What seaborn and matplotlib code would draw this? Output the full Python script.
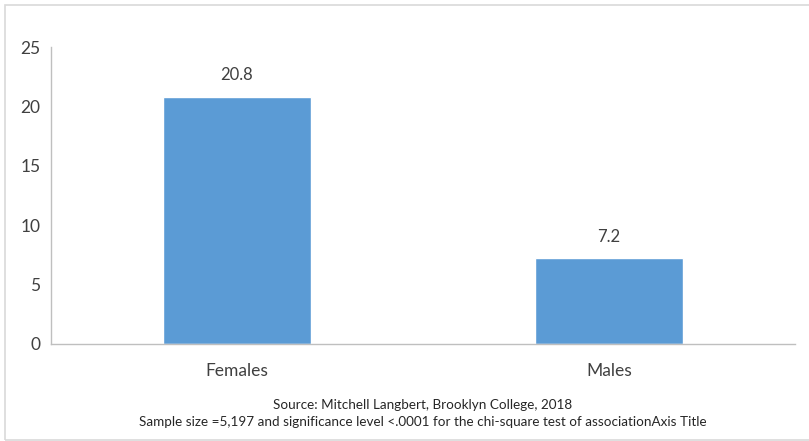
import matplotlib
matplotlib.use("Agg")
import matplotlib.pyplot as plt
import seaborn as sns
from matplotlib.patches import Rectangle

# data
groups = ["Females", "Males"]
percent = [20.8, 7.2]
source_lines = [
    "Source: Mitchell Langbert, Brooklyn College, 2018",
    "Sample size =5,197 and significance level <.0001 for the chi-square test of associationAxis Title",
]

sns.set_style("white")
plt.rcParams["font.family"] = ["Lato", "DejaVu Sans"]

fig = plt.figure(figsize=(8.09, 4.41), dpi=100)
ax = fig.add_axes([51 / 809, 1 - 344 / 441, 744 / 809, (344 - 47) / 441])

sns.barplot(x=groups, y=percent, color="#5B9BD5", width=0.4, saturation=1, ax=ax)

# value labels above bars
for i, v in enumerate(percent):
    ax.annotate(f"{v}", (i, v), xytext=(0, 10), textcoords="offset points",
                ha="center", va="bottom", fontsize=12, color="#404040")

ax.set_xlim(-0.5, 1.5)
ax.set_ylim(0, 25)
ax.set_yticks([0, 5, 10, 15, 20, 25])
ax.set_xticks([-0.5, 0.5, 1.5], minor=True)
ax.tick_params(axis="x", which="major", length=0, labelsize=12.5, labelcolor="#404040", pad=14)
ax.tick_params(axis="x", which="minor", length=4, color="#bfbfbf", direction="out")
ax.tick_params(axis="y", length=3.5, color="#bfbfbf", labelsize=12.5, labelcolor="#404040",
               direction="out", pad=4)
ax.set_xlabel("")
ax.set_ylabel("")

for side in ["top", "right"]:
    ax.spines[side].set_visible(False)
for side in ["left", "bottom"]:
    ax.spines[side].set_color("#bfbfbf")
    ax.spines[side].set_linewidth(1)

# source notes, centred under the plot area
xc = (51 + 795) / 2 / 809
fig.text(xc, 1 - 405 / 441, source_lines[0], ha="center", va="center", fontsize=9.7, color="#262626")
fig.text(xc, 1 - 422 / 441, source_lines[1], ha="center", va="center", fontsize=9.7, color="#262626")

# chart frame like the original
fig.patches.append(Rectangle((5 / 809, 1 / 441), 810 / 809, 435 / 441, transform=fig.transFigure,
                             fill=False, edgecolor="#d9d9d9", linewidth=1.2))

fig.savefig("out.png", dpi=100)
